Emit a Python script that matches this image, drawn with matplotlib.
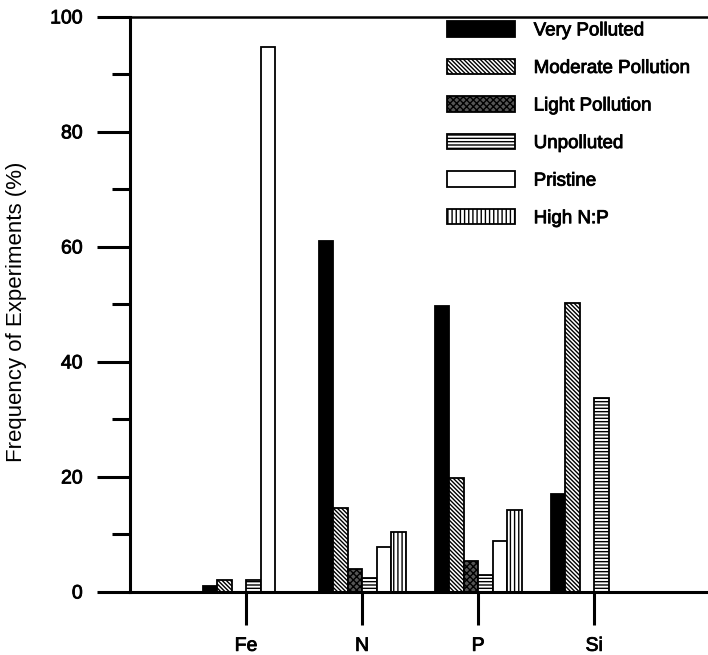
import matplotlib
matplotlib.use("Agg")
import matplotlib.pyplot as plt
import matplotlib.patheffects as pe
import numpy as np

plt.rcParams["font.family"] = ["Liberation Sans", "DejaVu Sans"]
plt.rcParams["hatch.linewidth"] = 1.0

# nutrient groups on the x axis
elements = ["Fe", "N", "P", "Si"]
categories = ["Very Polluted", "Moderate Pollution", "Light Pollution",
              "Unpolluted", "Pristine", "High N:P"]

# frequency (%) per category, one value per element (Fe, N, P, Si)
very_polluted = [1.0, 61.0, 49.7, 17.0]
moderate_pollution = [2.0, 14.6, 19.8, 50.3]
light_pollution = [0.0, 4.0, 5.4, 0.0]
unpolluted = [2.0, 2.4, 3.0, 33.7]
pristine = [94.7, 7.8, 8.9, 0.0]
high_np = [0.0, 10.4, 14.3, 0.0]

series = [very_polluted, moderate_pollution, light_pollution,
          unpolluted, pristine, high_np]
styles = [
    dict(facecolor="black", hatch=None),
    dict(facecolor="white", hatch="\\" * 8),
    dict(facecolor="#555555", hatch="xxxxx"),
    dict(facecolor="white", hatch="-" * 5),
    dict(facecolor="white", hatch=None),
    dict(facecolor="white", hatch="||||"),
]

fig = plt.figure(figsize=(7.08, 6.55), dpi=100)
ax = fig.add_axes([0.1836, 0.0962, 0.8164, 0.878])

x = np.arange(1, len(elements) + 1)
width = 0.125
for i, (vals, st) in enumerate(zip(series, styles)):
    offset = (i - 2.5) * width
    ax.bar(x + offset, vals, width, label=categories[i],
           edgecolor="black", linewidth=1.3, **st)

ax.set_xlim(0, 4.98)
ax.set_ylim(0, 100)
ax.set_yticks([0, 20, 40, 60, 80, 100])
ax.set_yticks([10, 30, 50, 70, 90], minor=True)
ax.set_xticks(x)
ax.set_xticklabels(elements)

for s in ["left", "bottom"]:
    ax.spines[s].set_linewidth(2.2)
ax.spines["right"].set_visible(False)
ax.spines["top"].set_linewidth(1.8)

ax.tick_params(axis="y", which="major", length=24, width=2.2,
               labelsize=14, pad=10)
ax.tick_params(axis="y", which="minor", length=13, width=2.2)
ax.tick_params(axis="x", which="major", length=24, width=2.2,
               labelsize=14, pad=9)

thick = [pe.withStroke(linewidth=0.6, foreground="black")]
for lbl in ax.get_xticklabels() + ax.get_yticklabels():
    lbl.set_path_effects(thick)

ax.set_ylabel("Frequency of Experiments (%)", fontsize=16)
ax.yaxis.set_label_coords(-0.178, 0.487)

leg = ax.legend(loc="upper left", bbox_to_anchor=(0.52, 1.022), frameon=False,
                fontsize=13.5, handlelength=3.6, handleheight=0.9,
                labelspacing=1.03, handletextpad=1.0)
for t in leg.get_texts():
    t.set_path_effects(thick)

fig.savefig("out.png", dpi=100)
